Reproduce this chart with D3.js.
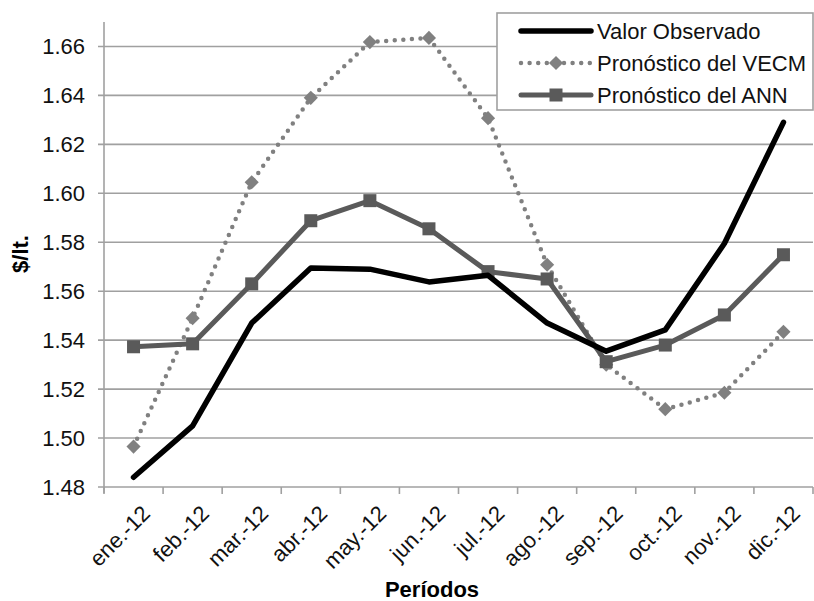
<!DOCTYPE html>
<html>
<head>
<meta charset="utf-8">
<script src="https://cdn.jsdelivr.net/npm/d3@7"></script>
<style>
  html, body { margin: 0; padding: 0; background: #fff; }
  svg { display: block; font-family: "Liberation Sans", Arial, sans-serif; }
</style>
</head>
<body>
<svg id="chart" width="814" height="601"></svg>
<script>
// Monthly price per litre: observed vs. VECM and ANN forecasts (2012)
const months = ["ene.-12", "feb.-12", "mar.-12", "abr.-12", "may.-12", "jun.-12",
                "jul.-12", "ago.-12", "sep.-12", "oct.-12", "nov.-12", "dic.-12"];
const observado = [1.484, 1.505, 1.547, 1.5695, 1.569, 1.5638, 1.5665, 1.547, 1.5355, 1.5442, 1.5795, 1.629];
const vecm      = [1.4965, 1.549, 1.6045, 1.639, 1.6618, 1.6635, 1.6307, 1.5708, 1.530, 1.5118, 1.5185, 1.5434];
const ann       = [1.5373, 1.5385, 1.563, 1.5888, 1.597, 1.5855, 1.568, 1.565, 1.5312, 1.538, 1.5503, 1.5749];
const yTicks    = [1.48, 1.50, 1.52, 1.54, 1.56, 1.58, 1.60, 1.62, 1.64, 1.66];
const seriesNames = ["Valor Observado", "Pronóstico del VECM", "Pronóstico del ANN"];

const svg = d3.select("#chart");
const plotLeft = 104, plotRight = 813, plotTop = 22, plotBottom = 487;

const xBand = d3.scaleBand().domain(months).range([plotLeft, plotRight]);
const xc = m => xBand(m) + xBand.bandwidth() / 2;
const y = d3.scaleLinear().domain([1.48, 1.67]).range([plotBottom, plotTop]);

const gridColor = "#a0a0a0";

// horizontal gridlines
svg.append("g").selectAll("line").data(yTicks).join("line")
  .attr("x1", plotLeft - 6).attr("x2", plotRight)
  .attr("y1", d => y(d)).attr("y2", d => y(d))
  .attr("stroke", gridColor).attr("stroke-width", 1.6);

// y axis line
svg.append("line")
  .attr("x1", plotLeft).attr("x2", plotLeft).attr("y1", plotTop).attr("y2", plotBottom + 6)
  .attr("stroke", gridColor).attr("stroke-width", 1.6);

// x tick marks at category boundaries
const bounds = months.map(m => xBand(m)).concat([plotRight]);
svg.append("g").selectAll("line").data(bounds).join("line")
  .attr("x1", d => d).attr("x2", d => d)
  .attr("y1", plotBottom).attr("y2", plotBottom + 7)
  .attr("stroke", gridColor).attr("stroke-width", 1.6);

// y tick labels
svg.append("g").selectAll("text").data(yTicks).join("text")
  .attr("x", 85).attr("y", d => y(d))
  .attr("dy", "0.35em")
  .attr("text-anchor", "end")
  .attr("font-size", 22).attr("fill", "#111")
  .text(d => d.toFixed(2));

// x tick labels, rotated
svg.append("g").selectAll("text").data(months).join("text")
  .attr("transform", m => `translate(${xc(m) + 7},${plotBottom + 17}) rotate(-45)`)
  .attr("text-anchor", "end")
  .attr("dy", "0.7em")
  .attr("font-size", 22).attr("fill", "#111")
  .text(m => m);

// axis titles
svg.append("text")
  .attr("x", 432).attr("y", 597)
  .attr("text-anchor", "middle")
  .attr("font-size", 22).attr("font-weight", "bold")
  .text("Períodos");
svg.append("text")
  .attr("transform", "translate(28,254) rotate(-90)")
  .attr("text-anchor", "middle")
  .attr("font-size", 22).attr("font-weight", "bold")
  .text("$/lt.");

const line = d3.line().x((d, i) => xc(months[i])).y(d => y(d));

// VECM forecast: dotted grey with diamonds
svg.append("path").datum(vecm)
  .attr("d", line).attr("fill", "none")
  .attr("stroke", "#808080").attr("stroke-width", 4.5)
  .attr("stroke-linecap", "round").attr("stroke-dasharray", "0 8.6");
const diamond = d3.symbol().type(d3.symbolSquare).size(100);
svg.append("g").selectAll("path").data(vecm).join("path")
  .attr("d", diamond)
  .attr("transform", (d, i) => `translate(${xc(months[i])},${y(d)}) rotate(45)`)
  .attr("fill", "#808080");

// ANN forecast: dark grey with squares
svg.append("path").datum(ann)
  .attr("d", line).attr("fill", "none")
  .attr("stroke", "#5a5a5a").attr("stroke-width", 5)
  .attr("stroke-linejoin", "round");
svg.append("g").selectAll("rect").data(ann).join("rect")
  .attr("x", (d, i) => xc(months[i]) - 6.5).attr("y", d => y(d) - 6.5)
  .attr("width", 13).attr("height", 13)
  .attr("fill", "#5a5a5a");

// observed values: thick black line
svg.append("path").datum(observado)
  .attr("d", line).attr("fill", "none")
  .attr("stroke", "#000").attr("stroke-width", 5.5)
  .attr("stroke-linejoin", "round").attr("stroke-linecap", "round");

// legend
const lg = svg.append("g");
lg.append("rect")
  .attr("x", 497).attr("y", 13).attr("width", 316).attr("height", 97)
  .attr("fill", "#fff").attr("stroke", gridColor).attr("stroke-width", 1.6);
const rows = [31, 63, 95];
const lx1 = 521, lx2 = 591, lmid = (lx1 + lx2) / 2;
lg.append("line").attr("x1", lx1).attr("x2", lx2).attr("y1", rows[0]).attr("y2", rows[0])
  .attr("stroke", "#000").attr("stroke-width", 5.5).attr("stroke-linecap", "round");
lg.append("line").attr("x1", lx1).attr("x2", lx2).attr("y1", rows[1]).attr("y2", rows[1])
  .attr("stroke", "#808080").attr("stroke-width", 4.5)
  .attr("stroke-linecap", "round").attr("stroke-dasharray", "0 8.6");
lg.append("path").attr("d", diamond)
  .attr("transform", `translate(${lmid},${rows[1]}) rotate(45)`).attr("fill", "#808080");
lg.append("line").attr("x1", lx1).attr("x2", lx2).attr("y1", rows[2]).attr("y2", rows[2])
  .attr("stroke", "#5a5a5a").attr("stroke-width", 5).attr("stroke-linecap", "round");
lg.append("rect").attr("x", lmid - 6.5).attr("y", rows[2] - 6.5)
  .attr("width", 13).attr("height", 13).attr("fill", "#5a5a5a");
lg.selectAll("text").data(seriesNames).join("text")
  .attr("x", 597).attr("y", (d, i) => rows[i])
  .attr("dy", "0.36em")
  .attr("font-size", 22).attr("fill", "#111")
  .text(d => d);
</script>
</body>
</html>
